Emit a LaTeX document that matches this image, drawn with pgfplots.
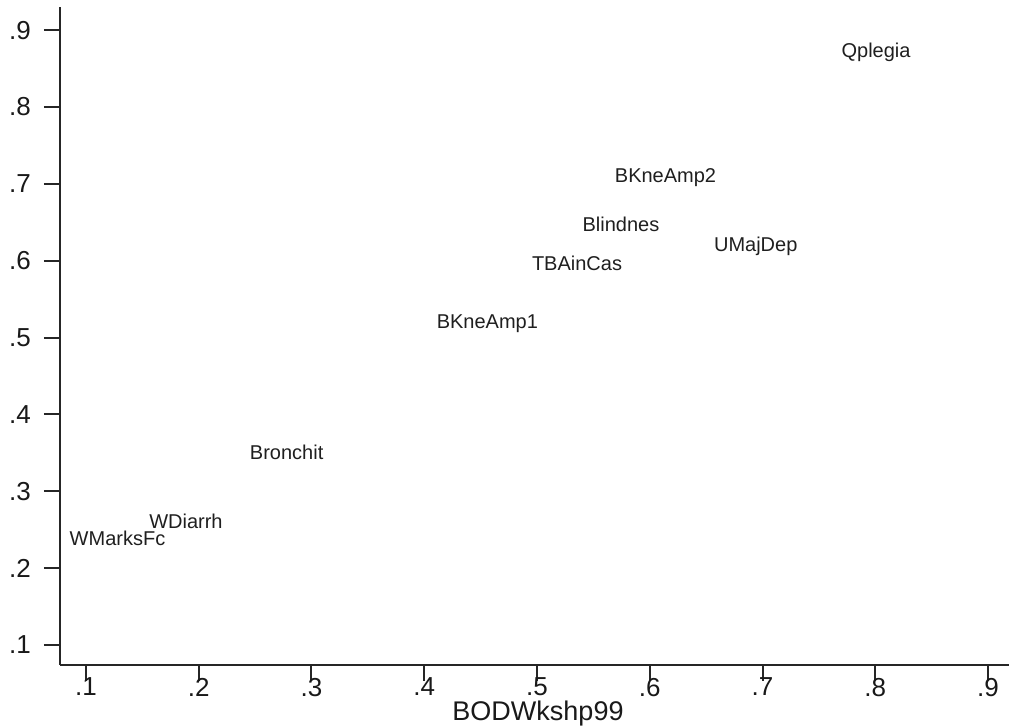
\documentclass[border=0pt]{standalone}
\usepackage{fontspec}
\setmainfont{Liberation Sans}
\usepackage{pgfplots}
\pgfplotsset{compat=1.18}
\pgfplotstableread{
x y label
0.8007 0.871 Qplegia
0.614 0.7076 BKneAmp2
0.5745 0.6477 Blindnes
0.694 0.619 UMajDep
0.5355 0.597 TBAinCas
0.456 0.5177 BKneAmp1
0.278 0.351 Bronchit
0.1887 0.2615 WDiarrh
0.128 0.239 WMarksFc
}\datatable
\begin{document}
\begin{tikzpicture}
\begin{axis}[
  name=ax,
  at={(0,0)}, anchor=south west,
  scale only axis, width=474.5pt, height=329pt,
  xmin=0.077, xmax=0.9186, ymin=0.074, ymax=0.930,
  axis x line=bottom, axis y line=left,
  axis line style={-, line width=1pt, black!85},
  xtick={0.1,0.2,0.3,0.4,0.5,0.6,0.7,0.8,0.9},
  ytick={0.1,0.2,0.3,0.4,0.5,0.6,0.7,0.8,0.9},
  xticklabels={.1,.2,.3,.4,.5,.6,.7,.8,.9},
  yticklabels={.1,.2,.3,.4,.5,.6,.7,.8,.9},
  tick style={line width=1pt, black!85},
  tick align=outside, major tick length=8pt,
  ticklabel style={font=\fontsize{13}{15}\selectfont, black!90},
  xticklabel style={yshift=5pt},
  yticklabel style={xshift=-3pt},
  xlabel={BODWkshp99},
  xlabel style={font=\fontsize{13.5}{15}\selectfont, black!90,
    at={(axis description cs:0.5037,0)}, anchor=base, yshift=-28pt},
  clip=false,
]
\addplot[only marks, mark=none, nodes near coords, point meta=explicit symbolic,
  nodes near coords style={anchor=center, font=\fontsize{10}{12}\selectfont, text=black!88}]
  table[x=x, y=y, meta=label] {\datatable};
\end{axis}
\pgfresetboundingbox
\path (-30pt,-31.5pt) rectangle (474.5pt,332.5pt);
\end{tikzpicture}
\end{document}
